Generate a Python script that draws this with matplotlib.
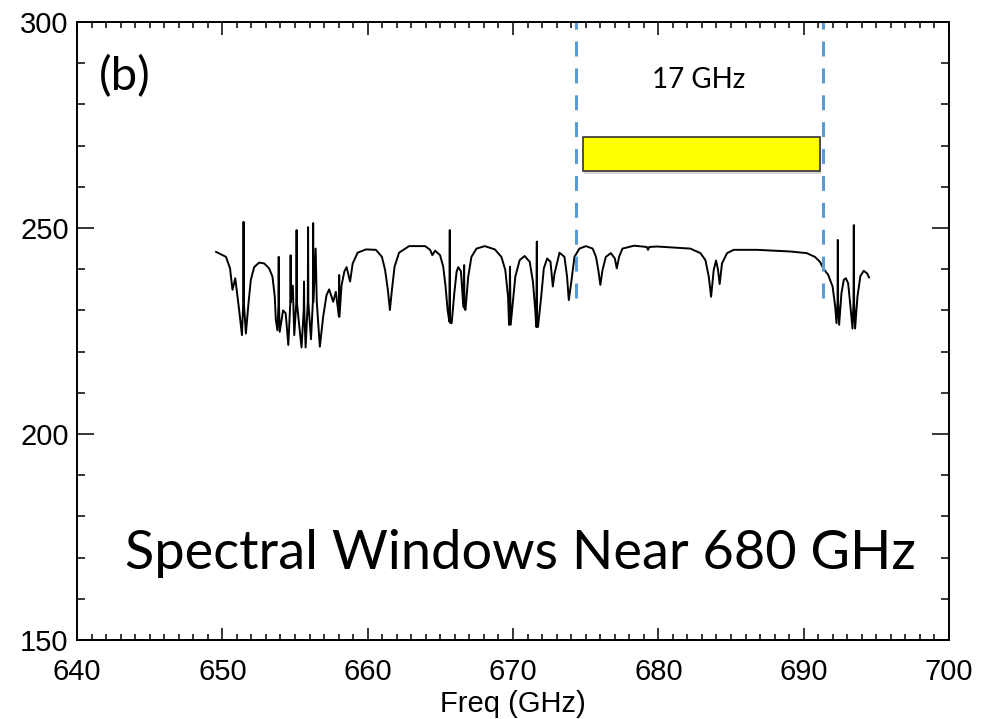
import numpy as np
import matplotlib.pyplot as plt
from matplotlib.patches import Rectangle

# spectrum trace (GHz, brightness)
freq = [649.57, 650.25, 650.53, 650.70, 650.89, 651.16, 651.35, 651.44, 651.46, 651.48, 651.62,
        651.80, 651.96, 652.19, 652.53, 652.88, 653.22, 653.45, 653.61, 653.68, 653.79, 653.86,
        653.88, 653.90, 653.95, 654.18, 654.36, 654.54, 654.68, 654.70, 654.72, 654.85, 654.95,
        655.09, 655.11, 655.13, 655.30, 655.45, 655.60, 655.62, 655.64, 655.73, 655.88, 655.90,
        655.92, 656.10, 656.23, 656.25, 656.27, 656.42, 656.50, 656.71, 656.94, 657.17, 657.35,
        657.52, 657.63, 657.81, 658.02, 658.04, 658.06, 658.20, 658.40, 658.55, 658.79, 658.97,
        659.31, 659.88, 660.57, 660.98, 661.20, 661.39, 661.53, 661.67, 661.85, 662.16, 662.85,
        663.95, 664.30, 664.45, 664.64, 664.98, 665.20, 665.36, 665.50, 665.62, 665.65, 665.67,
        665.78, 665.96, 666.12, 666.23, 666.42, 666.58, 666.64, 666.66, 666.73, 666.92, 667.14,
        667.49, 668.06, 668.75, 669.20, 669.47, 669.66, 669.73, 669.77, 669.79, 669.84, 670.16,
        670.46, 670.80, 671.15, 671.37, 671.53, 671.60, 671.64, 671.66, 671.72, 671.94, 672.12,
        672.35, 672.58, 672.74, 672.86, 673.20, 673.54, 673.72, 673.84, 674.00, 674.23, 674.57,
        675.02, 675.48, 675.71, 675.87, 676.01, 676.16, 676.39, 676.73, 677.01, 677.14, 677.30,
        677.53, 678.33, 679.20, 679.29, 679.38, 679.93, 682.20, 682.90, 683.24, 683.47, 683.63,
        683.81, 683.97, 684.10, 684.22, 684.38, 684.73, 685.18, 686.78, 689.06, 690.21, 690.77,
        691.12, 691.35, 691.69, 691.99, 692.17, 692.26, 692.33, 692.35, 692.37, 692.44, 692.60,
        692.76, 692.90, 693.06, 693.22, 693.36, 693.43, 693.45, 693.47, 693.54, 693.70, 693.90,
        694.13, 694.36, 694.50]
temp = [244.2, 243.0, 240.2, 235.0, 237.8, 230.0, 224.0, 232.0, 251.5, 232.0, 224.4,
        231.7, 237.4, 240.5, 241.6, 241.4, 240.2, 238.2, 233.3, 227.7, 225.2, 231.0,
        243.0, 231.0, 224.8, 230.0, 229.3, 221.6, 232.0, 243.4, 232.0, 236.0, 224.0,
        232.0, 249.5, 232.0, 226.0, 221.0, 230.0, 237.0, 230.0, 221.0, 232.0, 250.2,
        232.0, 223.0, 232.0, 251.2, 232.0, 245.0, 232.0, 221.2, 228.5, 233.7, 235.1,
        233.3, 232.1, 234.5, 228.5, 238.6, 228.5, 236.0, 239.5, 240.5, 237.0, 241.4,
        244.0, 244.8, 244.7, 243.0, 239.8, 235.0, 230.1, 235.0, 240.6, 244.0, 245.6,
        245.6, 244.7, 243.4, 244.5, 243.4, 240.6, 235.8, 230.1, 227.3, 249.5, 227.0,
        226.9, 234.1, 239.4, 240.5, 239.5, 230.9, 241.0, 230.5, 230.1, 238.2, 243.0,
        245.0, 245.6, 244.8, 243.0, 239.8, 233.3, 226.5, 232.0, 240.6, 226.5, 238.2,
        242.2, 243.2, 241.8, 237.0, 230.1, 226.0, 246.7, 226.0, 226.0, 233.3, 240.2,
        242.6, 241.8, 235.8, 239.0, 244.0, 243.0, 238.2, 232.5, 236.6, 243.0, 245.0,
        245.6, 245.0, 243.0, 239.8, 236.2, 239.8, 243.0, 243.9, 242.6, 240.2, 243.0,
        245.0, 245.7, 245.4, 244.7, 245.4, 245.5, 245.0, 243.9, 242.2, 238.2, 233.3,
        239.8, 242.1, 240.0, 236.4, 241.4, 243.9, 244.7, 244.7, 244.3, 243.9, 243.0,
        241.8, 240.2, 238.6, 235.8, 230.9, 226.9, 232.0, 247.1, 232.0, 226.5, 234.2,
        237.4, 237.8, 236.6, 230.9, 225.6, 232.0, 250.7, 232.0, 225.6, 233.3, 238.3,
        239.6, 239.0, 238.0]

# window annotation
win_lo, win_hi = 674.32, 691.30
bar_lo, bar_hi = 674.79, 691.10
bar_bot, bar_top = 263.8, 272.1
dash_bottom = 233.0

fig = plt.figure(figsize=(9.82, 7.19), dpi=100)
ax = fig.add_axes([0.0784, 0.1099, 0.8880, 0.8595])

ax.plot(freq, temp, color='black', lw=1.4)

for xv in (win_lo, win_hi):
    ax.plot([xv, xv], [dash_bottom, 300], color='#5b9bd5', lw=2.2,
            linestyle=(0, (4.9, 3.9)))

ax.add_patch(Rectangle((bar_lo + 0.12, bar_bot - 0.6), bar_hi - bar_lo, bar_top - bar_bot,
                       facecolor='#bbbbbb', edgecolor='none', alpha=0.6, zorder=3))
ax.add_patch(Rectangle((bar_lo, bar_bot), bar_hi - bar_lo, bar_top - bar_bot,
                       facecolor='#ffff00', edgecolor='#333333', lw=1.2, zorder=4))

ax.text(682.8, 285.9, '17 GHz', family='Lato', fontsize=20, ha='center', va='center')
ax.text(0.025, 0.912, '(b)', transform=ax.transAxes, family='Lato', fontsize=34,
        ha='left', va='center')
ax.text(0.509, 0.140, 'Spectral Windows Near 680 GHz', transform=ax.transAxes,
        family='Lato', fontsize=39, ha='center', va='center')

ax.set_xlim(640, 700)
ax.set_ylim(150, 300)
ax.set_xticks(np.arange(640, 701, 10))
ax.set_xticks(np.arange(640, 701, 1), minor=True)
ax.set_yticks(np.arange(150, 301, 50))
ax.set_yticks(np.arange(150, 301, 10), minor=True)
ax.tick_params(which='both', direction='in', top=True, right=True, width=1.1,
               labelsize=21)
ax.tick_params(axis='x', which='major', length=9, pad=13)
ax.tick_params(axis='x', which='minor', length=4.5)
ax.tick_params(axis='y', which='major', length=12, pad=6)
ax.tick_params(axis='y', which='minor', length=6)
for lab in ax.get_xticklabels() + ax.get_yticklabels():
    lab.set_family('Liberation Sans')
for sp in ax.spines.values():
    sp.set_linewidth(1.4)
ax.set_xlabel('Freq (GHz)', family='Liberation Sans', fontsize=21, labelpad=3)

fig.savefig('out.png', dpi=100)
